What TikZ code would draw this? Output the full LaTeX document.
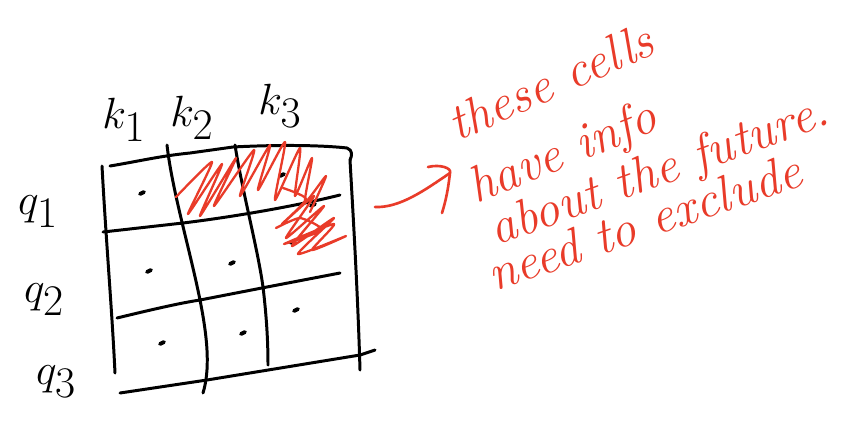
\documentclass[tikz,border=0pt]{standalone}
\usepackage{tikz}
\definecolor{inkred}{RGB}{233,59,41}
\tikzset{
  grid line/.style={line width=1.7pt, line cap=round, line join=round, black},
  scribble/.style={line width=1.3pt, inkred, line cap=round, line join=round},
  dotmark/.style={line width=2.2pt, line cap=round, black},
  axislabel/.style={font=\fontsize{38}{42}\selectfont, inner sep=0pt},
  note/.style={inkred, font=\itshape\fontsize{29}{32}\selectfont, inner sep=0pt, anchor=base west},
}
\begin{document}
\begin{tikzpicture}[x=0.02cm, y=-0.02cm]
\useasboundingbox (0,0) rectangle (849,434);
\fill[white] (0,0) rectangle (849,434);

% hand-drawn 3x3 grid
\draw[grid line] (110,166) .. controls (140,161) and (160,156) .. (190,153) -- (233,147) .. controls (290,144) and (330,146) .. (347,148) .. controls (353,150) and (352,156) .. (350,160);
\draw[grid line] (350,160) .. controls (354,230) and (358,300) .. (360,370);
\draw[grid line] (102,166) .. controls (106,240) and (112,310) .. (115,373);
\draw[grid line] (167,145) .. controls (172,190) and (190,250) .. (200,300) .. controls (208,340) and (210,370) .. (203,393);
\draw[grid line] (235,145) .. controls (242,190) and (258,250) .. (263,287) .. controls (267,320) and (268,345) .. (268,365);
\draw[grid line] (103,232) -- (183,223) .. controls (240,216) and (300,205) .. (340,195);
\draw[grid line] (117,318) .. controls (150,310) and (180,303) .. (200,300) -- (267,287) -- (340,273);
\draw[grid line] (120,393) -- (207,380) -- (360,355) -- (375,350);

% one dot per cell
\foreach \p in {(142,193),(149,271),(232,263),(162,343),(243,333),(296,310),(282,175),(293,242),(313,205)}
  \draw[dotmark] \p ++(-2,1) -- ++(4,-2);

% red hatching over the upper-right cells
\draw[scribble] plot[smooth, tension=0.35] coordinates {
  (176,197) (212,162) (188,214) (222,164) (200,216) (236,158) (214,206)
  (254,150) (240,196) (270,145) (258,190) (285,142) (275,200) (300,148)
  (295,196) (312,158) (305,202) (326,176) (310,212)};
\draw[scribble] plot[smooth, tension=0.35] coordinates {
  (283,188) (306,199) (282,224) (314,196) (286,238) (324,206) (292,246)
  (334,218) (298,254) (346,236) (312,250) (334,224) (284,244) (322,230)
  (300,218) (276,228)};

% column and row labels
\node[axislabel] (k1) at (124,120) {$k_{1}$};
\node[axislabel] (k2) at (192,118) {$k_{2}$};
\node[axislabel] (k3) at (280,106) {$k_{3}$};
\node[axislabel] (q1) at (38,212) {$q_{1}$};
\node[axislabel] (q2) at (44,300) {$q_{2}$};
\node[axislabel] (q3) at (56,382) {$q_{3}$};

% red arrow towards the note
\coordinate (arrowtail) at (375,207);
\coordinate (arrowtip) at (450,173);
\draw[scribble, line width=1.5pt] (arrowtail) .. controls (400,208) and (425,190) .. (arrowtip);
\draw[scribble, line width=1.5pt] (428,167) .. controls (440,164) and (452,168) .. (arrowtip) .. controls (448,190) and (446,200) .. (442,213);

% the red note
\node[note, rotate=24] (l1) at (457,142) {these cells};
\node[note, rotate=22] (l2) at (476,204) {have info};
\node[note, rotate=20] (l3) at (496,246) {about the future.};
\node[note, rotate=19] (l4) at (494,292) {need to exclude};
\end{tikzpicture}
\end{document}
